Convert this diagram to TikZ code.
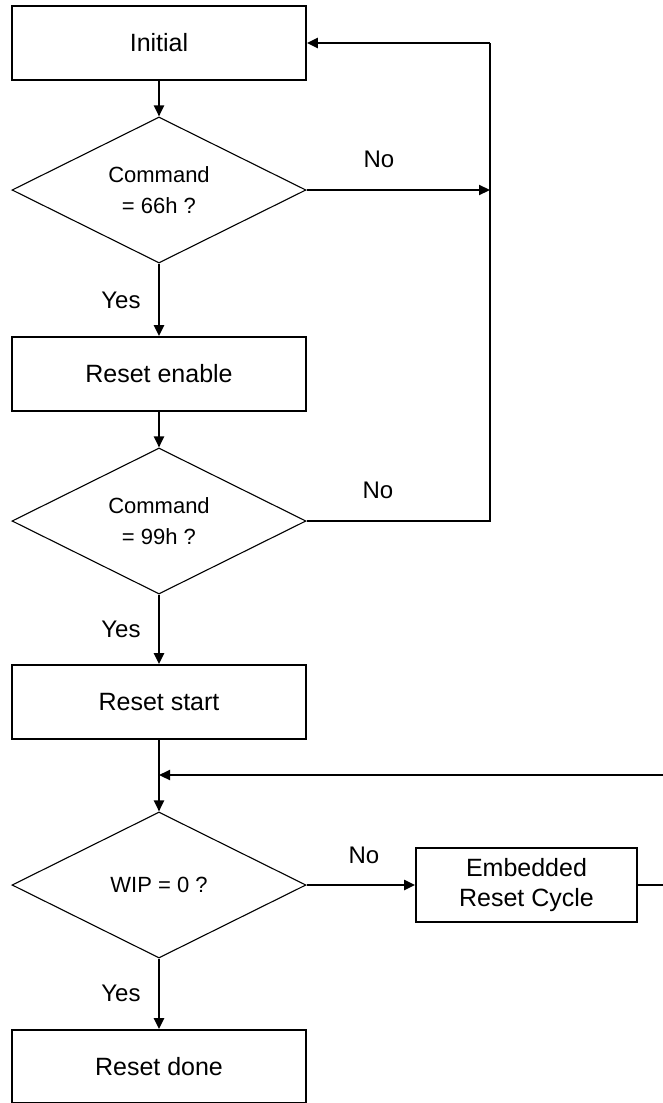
\documentclass[tikz,border=0pt]{standalone}
\usepackage{fontspec}
\setmainfont{Liberation Sans}
\usetikzlibrary{positioning,shapes.geometric,arrows.meta}
\newlength{\basisa}
\setlength{\basisa}{10pt}

\begin{document}
\begin{tikzpicture}[
	stepbox/.style={minimum height=7.4\basisa,minimum width=29.4\basisa,draw,line width=1.8pt,inner sep=0pt,font=\fontsize{25}{30}\selectfont,align=center},
	decision/.style={diamond,aspect=2,minimum height=14.6\basisa,minimum width=29.4\basisa,draw,line width=1.1pt,inner sep=0pt,font=\fontsize{22}{31}\selectfont,align=center},
	flow/.style={-{Triangle[length=11pt,width=10pt]},line width=2.2pt},
	plain/.style={line width=1.3pt},
	answer/.style={font=\fontsize{24}{28}\selectfont}]
    \useasboundingbox (0,0) rectangle (66.3\basisa,-110.3\basisa);

    \draw (15.9\basisa,-4.3\basisa) 
		node[stepbox] (Initial) {Initial};
    \draw (15.9\basisa,-19.0\basisa) 
		node[decision] (Cmd66) {Command\\= 66h ?};
    \draw (15.9\basisa,-37.4\basisa) 
		node[stepbox] (ResetEnable) {Reset enable};
    \draw (15.9\basisa,-52.1\basisa) 
		node[decision] (Cmd99) {Command\\= 99h ?};
    \draw (15.9\basisa,-70.2\basisa) 
		node[stepbox] (ResetStart) {Reset start};
    \draw (15.9\basisa,-88.5\basisa) 
		node[decision] (WipZero) {WIP = 0 ?};
    \draw (52.65\basisa,-88.5\basisa) 
		node[stepbox,minimum width=22.1\basisa] (Embedded) {Embedded\\Reset Cycle};
    \draw (15.9\basisa,-106.65\basisa) 
		node[stepbox,minimum height=7.3\basisa] (ResetDone) {Reset done};

    % loop corners
    \coordinate (LoopTop) at (49.0\basisa,-4.3\basisa);
    \coordinate (LoopNo) at (49.0\basisa,-19.0\basisa);
    \coordinate (Join) at (15.9\basisa,-77.5\basisa);
    \coordinate (OutRight) at (67.0\basisa,-88.5\basisa);
    \coordinate (OutTop) at (67.0\basisa,-77.5\basisa);

    % labels
    \node[answer] (Yes66) at (12.1\basisa,-30.0\basisa) {Yes};
    \node[answer] (Yes99) at (12.1\basisa,-62.9\basisa) {Yes};
    \node[answer] (YesWip) at (12.1\basisa,-99.3\basisa) {Yes};
    \node[answer] (No66) at (37.9\basisa,-15.9\basisa) {No};
    \node[answer] (No99) at (37.8\basisa,-49.0\basisa) {No};
    \node[answer] (NoWip) at (36.4\basisa,-85.5\basisa) {No};

	\draw[flow] (Initial) -- (Cmd66);
	\draw[flow] (Cmd66) -- (ResetEnable);
	\draw[flow] (ResetEnable) -- (Cmd99);
	\draw[flow] (Cmd99) -- (ResetStart);
	\draw[flow] (ResetStart) -- (WipZero);
	\draw[flow] (WipZero) -- (ResetDone);
	\draw[flow] (WipZero) -- (Embedded);
	\draw[flow] (Cmd66.east) -- (LoopNo);
	\draw[plain] (Cmd99.east) -| (LoopTop);
	\draw[flow] (LoopTop) -- (Initial.east);
	\draw[plain] (Embedded.east) -- (OutRight) -- (OutTop);
	\draw[flow] (OutTop) -- (Join);
\end{tikzpicture}
\end{document}
